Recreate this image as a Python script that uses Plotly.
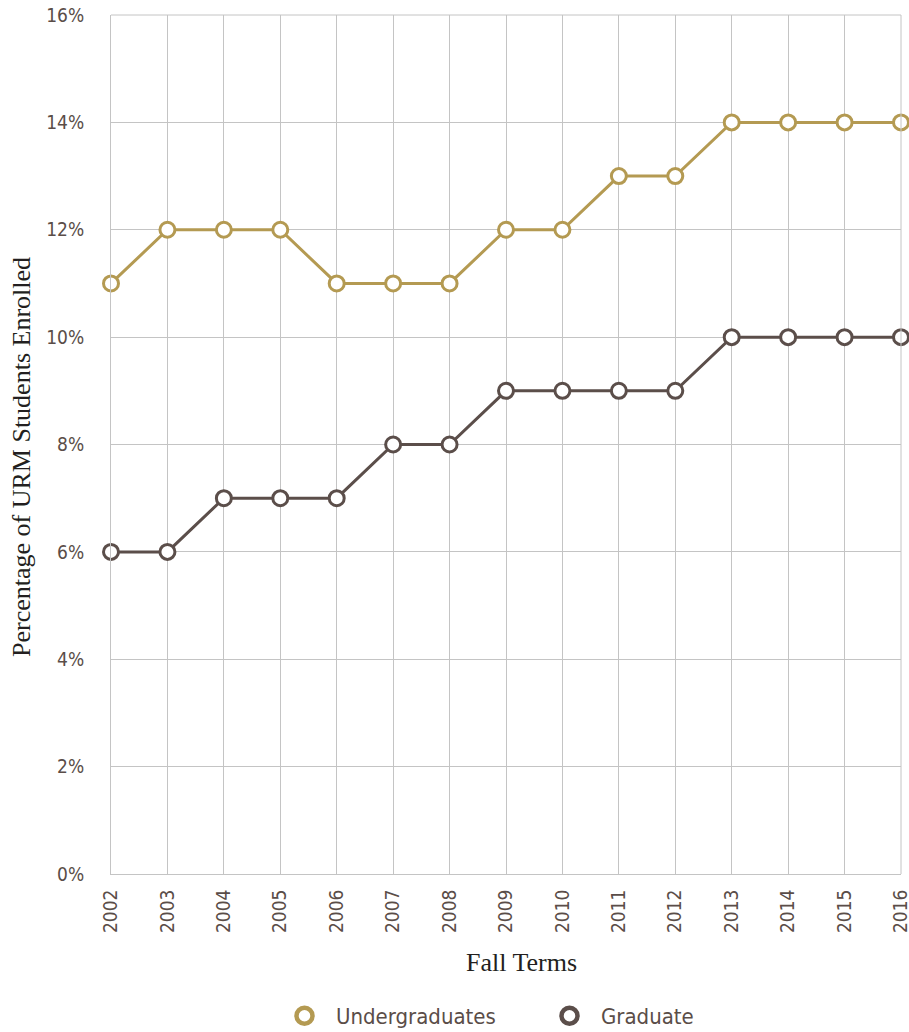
import plotly.graph_objects as go

years = [str(y) for y in range(2002, 2017)]
undergrad = [11, 12, 12, 12, 11, 11, 11, 12, 12, 13, 13, 14, 14, 14, 14]
graduate = [6, 6, 7, 7, 7, 8, 8, 9, 9, 9, 9, 10, 10, 10, 10]
y_ticks = [0, 2, 4, 6, 8, 10, 12, 14, 16]
y_tick_labels = [f"{v}%" for v in y_ticks]
series = [("Undergraduates", undergrad, "#b49a52"), ("Graduate", graduate, "#5b4e4a")]

text_col = "#5a4d48"
title_col = "#231f20"
sans = "DejaVu Sans Condensed, DejaVu Sans, sans-serif"
serif = "Liberation Serif, DejaVu Serif, serif"
tick_font = dict(family=sans, size=19, color=text_col)

fig = go.Figure()
for name, vals, col in series:
    fig.add_trace(go.Scatter(x=years, y=vals, name=name, mode="lines+markers",
                             line=dict(color=col, width=3),
                             marker=dict(size=15, color="white", line=dict(color=col, width=3)),
                             cliponaxis=False, showlegend=False))
for name, vals, col in series:
    fig.add_trace(go.Scatter(x=[None], y=[None], name=name, mode="markers",
                             marker=dict(size=18, color="white", line=dict(color=col, width=4.5)),
                             showlegend=True))

W, H = 909, 1032
L, R, T, B = 111, 8, 15, 158
PW, PH = W - L - R, H - T - B


def px_x(x):
    return (x - L) / PW


def px_y(y):
    return (H - B - y) / PH


fig.update_layout(
    width=W, height=H,
    margin=dict(l=L, r=R, t=T, b=B, autoexpand=False),
    plot_bgcolor="white", paper_bgcolor="white",
    legend=dict(orientation="h", x=px_x(273), xanchor="left", y=px_y(1016), yanchor="middle",
                font=dict(family=sans, size=22, color=text_col),
                itemwidth=53, entrywidth=197, traceorder="normal", tracegroupgap=0),
    xaxis=dict(type="category", range=[0, 14], showgrid=True, gridcolor="#c4c4c4", gridwidth=1,
               tickangle=-90, tickfont=tick_font, ticks="outside", ticklen=7, tickcolor="rgba(0,0,0,0)",
               automargin=False, showline=True, linecolor="#c4c4c4", ticklabeloverflow="allow"),
    yaxis=dict(range=[0, 16], tickvals=y_ticks, ticktext=y_tick_labels, showgrid=True, gridcolor="#c4c4c4",
               tickfont=tick_font, zeroline=False, showline=True, linecolor="#c4c4c4",
               ticklabelstandoff=22, automargin=False, ticklabeloverflow="allow"),
    annotations=[
        dict(text="Fall Terms", xref="paper", yref="paper", x=px_x(521), y=px_y(963),
             xanchor="center", yanchor="middle", showarrow=False,
             font=dict(family=serif, size=26, color=title_col)),
        dict(text="Percentage of URM Students Enrolled", xref="paper", yref="paper", x=px_x(22), y=px_y(457),
             xanchor="center", yanchor="middle", showarrow=False, textangle=-90,
             font=dict(family=serif, size=26, color=title_col)),
    ],
)
fig.add_shape(type="line", xref="paper", yref="paper", x0=0, x1=1, y0=1, y1=1, line=dict(color="#c4c4c4", width=1))
fig.add_shape(type="line", xref="paper", yref="paper", x0=1, x1=1, y0=0, y1=1, line=dict(color="#c4c4c4", width=1))

fig.write_html("out.html", config={"displayModeBar": False},
               post_script="document.body.style.margin='0';document.body.style.overflow='hidden';")
